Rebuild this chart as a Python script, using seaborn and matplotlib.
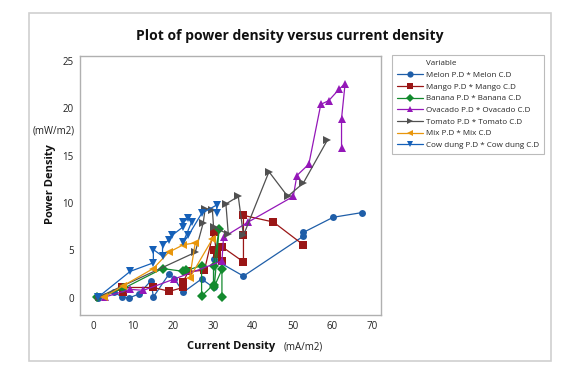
import pandas as pd
import matplotlib
matplotlib.use("Agg")
import matplotlib.pyplot as plt
from matplotlib.lines import Line2D
from matplotlib.patches import Rectangle
import seaborn as sns

# values (current density mA/m2, power density mW/m2)
melon_cd = [1.3, 5.3, 7.2, 9.0, 11.4, 14.5, 15.1, 19.0, 20.4, 22.6, 27.2, 30.2, 30.2, 37.7, 52.7, 52.7, 60.2, 67.5]
melon_pd = [0.0, 0.6, 0.1, 0.0, 0.4, 1.8, 0.1, 2.5, 2.0, 0.6, 2.0, 1.1, 4.1, 2.3, 6.5, 6.9, 8.5, 9.0]

mango_cd = [7.6, 7.2, 15.1, 19.1, 22.6, 22.6, 23.9, 27.9, 30.2, 31.0, 32.3, 30.2, 32.3, 37.7, 37.7, 37.7, 45.2, 52.7]
mango_pd = [0.6, 1.1, 1.1, 0.7, 1.1, 1.7, 2.8, 2.9, 7.0, 4.6, 3.9, 5.1, 5.4, 3.8, 6.6, 8.7, 8.0, 5.6]

banana_cd = [0.9, 7.6, 17.4, 22.6, 23.4, 27.2, 27.2, 30.2, 30.2, 31.6, 30.4, 32.3, 32.3]
banana_pd = [0.1, 1.0, 3.1, 2.8, 2.9, 3.4, 0.2, 1.4, 3.4, 7.3, 1.2, 3.0, 0.1]

avocado_cd = [3.0, 9.3, 12.6, 20.4, 32.3, 32.7, 38.9, 50.2, 51.1, 54.1, 57.1, 59.1, 61.7, 63.2, 62.3, 62.3]
avocado_pd = [0.1, 0.9, 0.8, 2.0, 3.9, 6.4, 8.0, 10.7, 12.9, 14.1, 20.4, 20.8, 22.0, 22.6, 18.9, 15.8]

tomato_cd = [1.4, 25.6, 27.6, 28.1, 29.9, 30.2, 33.9, 33.3, 36.4, 37.7, 44.1, 48.8, 52.7, 58.7]
tomato_pd = [0.1, 4.8, 7.9, 9.4, 9.3, 7.5, 6.7, 9.9, 10.7, 6.6, 13.3, 10.7, 12.1, 16.6]

mix_cd = [2.8, 7.6, 15.1, 18.9, 22.6, 25.6, 24.2, 29.9]
mix_pd = [0.1, 1.3, 3.1, 4.8, 5.6, 5.8, 2.1, 6.2]

cow_cd = [1.3, 9.3, 15.1, 15.1, 17.4, 17.4, 19.0, 19.8, 22.6, 22.6, 23.9, 24.7, 22.6, 23.9, 27.2, 31.0, 31.0]
cow_pd = [0.1, 2.8, 3.7, 5.1, 4.4, 5.6, 6.1, 6.6, 7.5, 8.0, 8.4, 8.0, 5.9, 6.6, 8.9, 9.8, 8.9]

labels = ["Melon P.D * Melon C.D", "Mango P.D * Mango C.D", "Banana P.D * Banana C.D",
          "Ovacado P.D * Ovacado C.D", "Tomato P.D * Tomato C.D", "Mix P.D * Mix C.D",
          "Cow dung P.D * Cow dung C.D"]
xs = [melon_cd, mango_cd, banana_cd, avocado_cd, tomato_cd, mix_cd, cow_cd]
ys = [melon_pd, mango_pd, banana_pd, avocado_pd, tomato_pd, mix_pd, cow_pd]

colors = ["#1f5ea8", "#9a1616", "#138a2e", "#9417b8", "#505050", "#e8960c", "#1560b8"]
markers = ["o", "s", "D", "^", ">", "<", "v"]
sizes = [5.0, 5.6, 4.8, 6.4, 6.4, 6.4, 6.4]

rows = []
for lab, x, y in zip(labels, xs, ys):
    for i, (a, b) in enumerate(zip(x, y)):
        rows.append({"Variable": lab, "cd": a, "pd": b, "order": i})
df = pd.DataFrame(rows)

sns.set_style("white")
plt.rcParams["font.family"] = ["Open Sans", "DejaVu Sans"]

fig = plt.figure(figsize=(5.87, 3.76), dpi=100)
ax = fig.add_axes([80 / 587, 1 - 315 / 376, 301 / 587, 259 / 376])

for lab, col, mk, ms in zip(labels, colors, markers, sizes):
    sub = df[df["Variable"] == lab]
    sns.lineplot(data=sub, x="cd", y="pd", sort=False, estimator=None, color=col,
                 marker=mk, markersize=ms, markeredgewidth=0, linewidth=0.9,
                 legend=False, ax=ax)

ax.set_xlim(-3.3, 72.2)
ax.set_ylim(-1.8, 25.5)
ax.set_xticks(range(0, 71, 10))
ax.set_yticks(range(0, 26, 5))
ax.tick_params(axis="both", labelsize=7, length=2.5, width=0.6, color="#999999",
               direction="out", pad=2, labelcolor="#222222")
for s in ax.spines.values():
    s.set_color("#b0b0b0")
    s.set_linewidth(1.0)
ax.set_xlabel("")
ax.set_ylabel("")

fig.text(290 / 587, 1 - 36 / 376, "Plot of power density versus current density",
         ha="center", va="center", fontsize=10, fontweight="bold", color="#111111")
fig.text(231 / 587, 1 - 346 / 376, "Current Density", ha="center", va="center",
         fontsize=8, fontweight="bold", color="#111111")
fig.text(303 / 587, 1 - 347 / 376, "(mA/m2)", ha="center", va="center",
         fontsize=7, color="#222222")
fig.text(51 / 587, 1 - 184 / 376, "Power Density", ha="center", va="center",
         rotation=90, fontsize=8, fontweight="bold", color="#111111")
fig.text(54 / 587, 1 - 131 / 376, "(mW/m2)", ha="center", va="center",
         fontsize=7, color="#222222")

handles = [Line2D([], [], linestyle="none", marker=None)]
for col, mk in zip(colors, markers):
    handles.append(Line2D([], [], color=col, marker=mk, markersize=4.5, markeredgewidth=0,
                          linewidth=0.9))
leg = fig.legend(handles, ["Variable"] + labels, loc="upper left",
                 bbox_to_anchor=(392 / 587, 1 - 55 / 376), fontsize=5.8,
                 frameon=True, fancybox=False, edgecolor="#aaaaaa", handlelength=3.2,
                 handletextpad=0.4, labelspacing=0.5, borderpad=0.6, borderaxespad=0)
leg.get_frame().set_linewidth(0.8)

fig.patches.append(Rectangle((29 / 587, 1 - 361 / 376), 522 / 587, 348 / 376,
                             transform=fig.transFigure, fill=False,
                             edgecolor="#d0d0d0", linewidth=1.2))

fig.savefig("out.png", dpi=100)
